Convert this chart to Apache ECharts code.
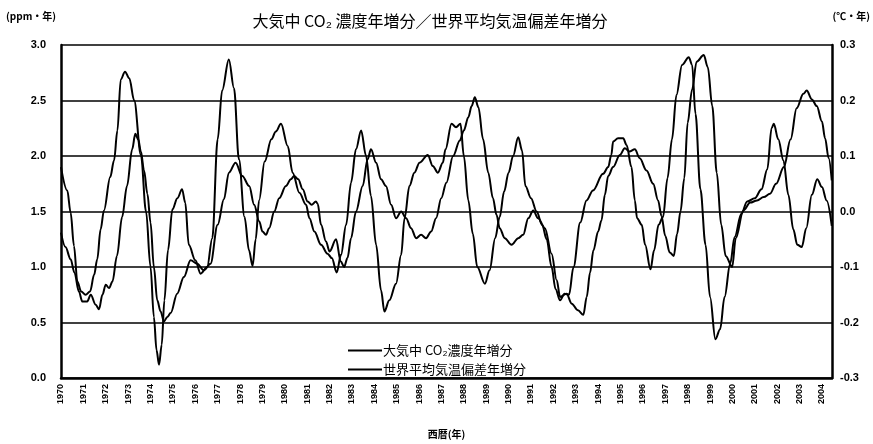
<!DOCTYPE html>
<html>
<head>
<meta charset="utf-8">
<script src="https://cdn.jsdelivr.net/npm/echarts@6/dist/echarts.min.js"></script>
<style>
html,body{margin:0;padding:0;background:#fff;}
#chart{width:873px;height:444px;}
</style>
</head>
<body>
<div id="chart"></div>
<script>
// ---- data ----
var titleText = '大気中 CO₂ 濃度年増分／世界平均気温偏差年増分';
var seriesNames = ['大気中 CO₂濃度年増分', '世界平均気温偏差年増分'];
var leftTicks = ['0.0','0.5','1.0','1.5','2.0','2.5','3.0'];
var rightTicks = ['-0.3','-0.2','-0.1','0.0','0.1','0.2','0.3'];

// CO2 annual increase (ppm/yr)
var co2Years = [1970.0,1970.2,1970.43,1970.6,1970.8,1970.95,1971.17,1971.33,1971.55,1971.7,1971.85,1972.0,1972.15,1972.3,1972.5,1972.73,1972.95,1973.18,1973.32,1973.45,1973.57,1973.71,1973.86,1974.0,1974.15,1974.3,1974.45,1974.6,1974.75,1974.9,1975.19,1975.49,1975.79,1976.09,1976.38,1976.68,1977.0,1977.28,1977.5,1977.8,1978.1,1978.41,1978.63,1978.86,1979.0,1979.16,1979.3,1979.53,1979.75,1980.05,1980.27,1980.42,1980.6,1980.8,1981.02,1981.2,1981.39,1981.47,1981.62,1981.84,1982.0,1982.29,1982.5,1982.65,1982.8,1982.96,1983.18,1983.48,1983.7,1983.85,1984.08,1984.3,1984.52,1984.75,1984.97,1985.2,1985.42,1985.64,1985.87,1986.09,1986.31,1986.54,1986.76,1986.99,1987.22,1987.52,1987.82,1988.0,1988.2,1988.35,1988.49,1988.65,1988.86,1989.09,1989.3,1989.46,1989.6,1989.83,1990.13,1990.43,1990.65,1990.88,1991.1,1991.32,1991.62,1991.92,1992.15,1992.3,1992.59,1992.82,1993.1,1993.34,1993.49,1993.64,1993.79,1994.0,1994.15,1994.3,1994.45,1994.67,1994.97,1995.19,1995.4,1995.64,1995.86,1996.16,1996.46,1996.68,1996.83,1997.0,1997.2,1997.38,1997.53,1997.68,1997.85,1998.0,1998.2,1998.4,1998.72,1998.9,1999.1,1999.3,1999.5,1999.7,1999.99,2000.15,2000.49,2000.8,2001.1,2001.4,2001.68,2001.95,2002.3,2002.6,2002.87,2003.17,2003.32,2003.55,2003.77,2004.0,2004.14,2004.3,2004.44];
var co2Values = [1.31,1.18,1.07,0.95,0.78,0.69,0.69,0.75,0.66,0.62,0.75,0.84,0.81,0.87,1.10,1.45,1.73,2.06,2.20,2.15,2.04,1.87,1.66,1.40,1.00,0.70,0.60,0.51,0.55,0.585,0.76,0.91,1.06,1.03,0.97,1.03,1.38,1.61,1.85,1.94,1.82,1.73,1.56,1.41,1.32,1.29,1.35,1.50,1.62,1.73,1.79,1.82,1.79,1.70,1.59,1.56,1.59,1.57,1.38,1.23,1.14,1.25,1.05,1.00,1.08,1.26,1.50,1.73,1.97,2.06,1.94,1.79,1.73,1.56,1.44,1.50,1.44,1.35,1.26,1.29,1.26,1.32,1.44,1.62,1.76,2.00,2.14,2.23,2.35,2.45,2.53,2.44,2.15,1.85,1.62,1.47,1.35,1.26,1.20,1.26,1.29,1.44,1.51,1.44,1.35,1.12,0.88,0.73,0.76,0.67,0.61,0.57,0.73,0.95,1.15,1.32,1.42,1.65,1.82,1.90,2.01,2.07,2.04,2.06,1.98,1.87,1.75,1.60,1.46,1.28,1.13,1.10,1.30,1.50,1.80,2.30,2.60,2.85,2.91,2.80,2.45,1.85,1.38,1.10,1.00,1.26,1.51,1.58,1.60,1.63,1.66,1.75,1.90,2.15,2.43,2.56,2.59,2.51,2.45,2.31,2.16,1.98,1.78];

// global mean temperature anomaly annual increase (degC/yr)
var tempYears = [1970.0,1970.28,1970.43,1970.58,1970.73,1970.9,1971.1,1971.3,1971.48,1971.62,1971.77,1971.92,1972.2,1972.37,1972.52,1972.67,1972.86,1973.05,1973.27,1973.57,1973.8,1974.0,1974.15,1974.27,1974.38,1974.5,1974.62,1974.78,1974.98,1975.2,1975.41,1975.55,1975.71,1976.0,1976.24,1976.53,1976.76,1977.0,1977.2,1977.5,1977.73,1977.95,1978.2,1978.4,1978.56,1978.7,1978.85,1979.1,1979.4,1979.6,1979.83,1980.13,1980.35,1980.65,1980.95,1981.1,1981.32,1981.62,1981.91,1982.1,1982.32,1982.51,1982.74,1982.96,1983.18,1983.41,1983.63,1983.85,1984.08,1984.3,1984.45,1984.67,1984.97,1985.2,1985.35,1985.57,1985.79,1986.02,1986.39,1986.61,1986.84,1987.06,1987.18,1987.45,1987.65,1987.85,1988.0,1988.2,1988.4,1988.6,1988.94,1989.15,1989.4,1989.6,1989.8,1990.0,1990.2,1990.43,1990.6,1990.75,1991.0,1991.25,1991.5,1991.7,1991.92,1992.1,1992.3,1992.5,1992.7,1992.9,1993.2,1993.48,1993.77,1994.22,1994.45,1994.59,1994.67,1994.89,1995.12,1995.27,1995.49,1995.64,1995.74,1995.95,1996.1,1996.34,1996.5,1996.7,1996.9,1997.1,1997.3,1997.5,1997.75,1998.05,1998.2,1998.35,1998.57,1998.8,1999.0,1999.24,1999.45,1999.65,1999.9,2000.1,2000.4,2000.66,2001.0,2001.3,2001.56,2001.75,2001.85,2002.05,2002.28,2002.5,2002.72,2002.9,2003.1,2003.3,2003.55,2003.79,2004.0,2004.21,2004.44];
var tempValues = [0.080,0.038,-0.002,-0.062,-0.126,-0.144,-0.150,-0.144,-0.114,-0.086,-0.032,0.002,0.062,0.092,0.146,0.238,0.252,0.240,0.200,0.102,0.000,-0.100,-0.190,-0.250,-0.276,-0.240,-0.160,-0.070,0.004,0.024,0.040,0.016,-0.060,-0.088,-0.112,-0.100,-0.048,0.130,0.218,0.274,0.222,0.094,-0.010,-0.070,-0.098,-0.050,0.020,0.090,0.130,0.144,0.158,0.118,0.070,0.034,0.012,-0.012,-0.036,-0.060,-0.076,-0.084,-0.110,-0.078,-0.024,0.052,0.112,0.146,0.100,0.028,-0.060,-0.142,-0.180,-0.160,-0.130,-0.078,-0.012,0.046,0.070,0.088,0.102,0.082,0.070,0.088,0.112,0.158,0.152,0.158,0.100,0.020,-0.040,-0.100,-0.130,-0.106,-0.048,-0.010,0.036,0.070,0.100,0.134,0.110,0.046,0.024,0.000,-0.024,-0.050,-0.100,-0.140,-0.160,-0.148,-0.150,-0.100,-0.020,0.020,0.038,0.068,0.080,0.102,0.126,0.132,0.132,0.120,0.080,0.020,-0.012,-0.024,-0.060,-0.104,-0.070,-0.024,-0.010,0.060,0.130,0.210,0.264,0.278,0.264,0.176,0.040,-0.060,-0.154,-0.230,-0.212,-0.154,-0.094,-0.046,-0.004,0.018,0.024,0.040,0.076,0.150,0.158,0.130,0.092,0.030,-0.032,-0.060,-0.064,-0.030,0.030,0.058,0.044,0.020,-0.026];

function pairs(xs, ys){ var out=[]; for(var i=0;i<xs.length;i++){ out.push([xs[i], ys[i]]); } return out; }

var chart = echarts.init(document.getElementById('chart'), null, {renderer:'canvas'});
var FONT = '"Noto Sans CJK JP", "Liberation Sans", sans-serif';
var labelFont = '"Liberation Sans", Arial, sans-serif';

var option = {
  backgroundColor: '#fff',
  animation: false,
  title: {
    text: titleText,
    left: 425, top: 8, textAlign: 'center',
    textStyle: {fontFamily: FONT, fontSize: 16, fontWeight: 'normal', color: '#000'}
  },
  graphic: [
    {type:'text', left: 6, top: 11, style:{text:'(ppm・年)', fontFamily: FONT, fontSize: 10, fill:'#000', fontWeight:'bold'}},
    {type:'text', right: 3, top: 11, style:{text:'(℃・年)', fontFamily: FONT, fontSize: 10, fill:'#000', fontWeight:'bold'}}
  ],
  legend: {
    data: seriesNames,
    orient: 'vertical',
    left: 343, top: 339,
    itemWidth: 34, itemHeight: 2, itemGap: 6,
    icon: 'rect',
    textStyle: {fontFamily: FONT, fontSize: 13, color: '#000', padding:[0,0,0,-4]}
  },
  grid: {left: 61, right: 41, top: 45, bottom: 59, containLabel: false},
  xAxis: {
    type: 'value', min: 1970, max: 2004.45, interval: 1,
    name: '西暦(年)', nameLocation: 'middle', nameGap: 51,
    nameTextStyle: {fontFamily: FONT, fontSize: 10, fontWeight: 'bold', color: '#000'},
    axisLine: {show: true, lineStyle: {color: '#000', width: 2.5}},
    axisTick: {show: false},
    splitLine: {show: false},
    axisLabel: {
      rotate: 90, margin: 6, fontFamily: labelFont, fontSize: 9, fontWeight: 'bold', color: '#000',
      showMaxLabel: false,
      formatter: function(v){ return (Math.abs(v - Math.round(v)) < 1e-6 && v <= 2004) ? String(Math.round(v)) : ''; }
    }
  },
  yAxis: [
    {
      type: 'value', min: 0, max: 3, interval: 0.5, position: 'left',
      axisLine: {show: true, lineStyle: {color: '#000', width: 2.5}},
      axisTick: {show: false},
      splitLine: {show: true, lineStyle: {color: '#000', width: 1.5}},
      axisLabel: {margin: 15, fontFamily: labelFont, fontSize: 11, fontWeight: 'bold', color: '#000',
        formatter: function(v, i){ return leftTicks[Math.round(v / 0.5)]; }}
    },
    {
      type: 'value', min: -0.3, max: 0.3, interval: 0.1, position: 'right',
      axisLine: {show: true, lineStyle: {color: '#000', width: 2.5}},
      axisTick: {show: false},
      splitLine: {show: false},
      axisLabel: {margin: 8, fontFamily: labelFont, fontSize: 11, fontWeight: 'bold', color: '#000',
        formatter: function(v){ return rightTicks[Math.round((v + 0.3) / 0.1)]; }}
    }
  ],
  series: [
    {
      name: seriesNames[0], type: 'line', yAxisIndex: 0,
      data: pairs(co2Years, co2Values),
      showSymbol: false, smooth: 0.35, smoothMonotone: 'x',
      lineStyle: {color: '#000', width: 2}, itemStyle: {color: '#000'}
    },
    {
      name: seriesNames[1], type: 'line', yAxisIndex: 1,
      data: pairs(tempYears, tempValues),
      showSymbol: false, smooth: 0.35, smoothMonotone: 'x',
      lineStyle: {color: '#000', width: 2}, itemStyle: {color: '#000'}
    }
  ]
};
chart.setOption(option);
</script>
</body>
</html>
